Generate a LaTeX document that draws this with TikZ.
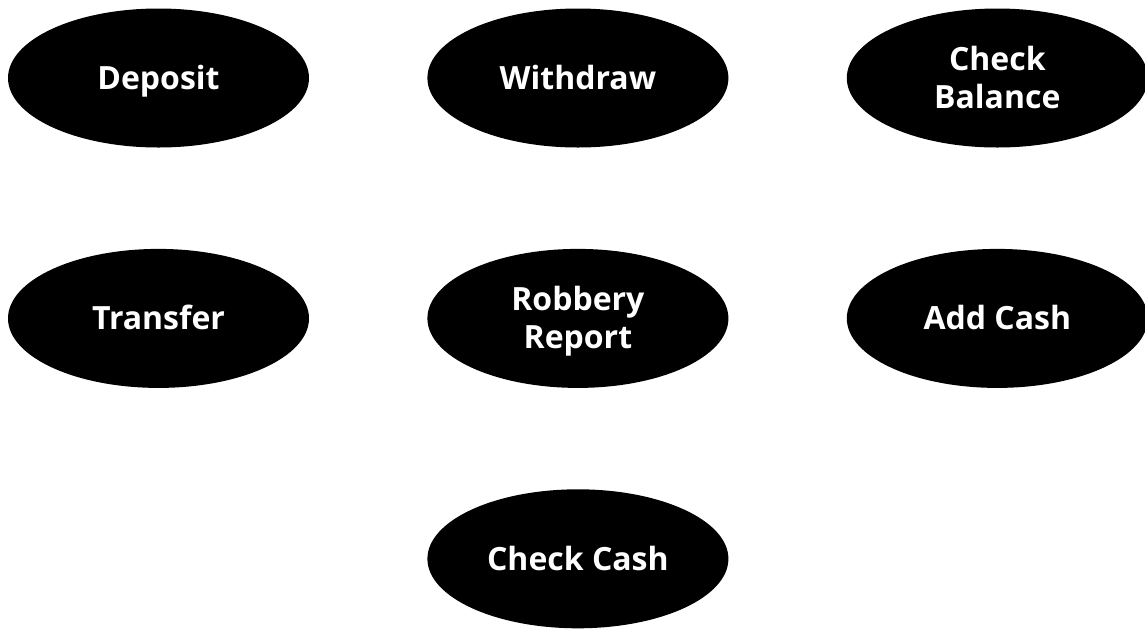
\documentclass[tikz,border=0pt]{standalone}
\usepackage{fontspec}
\setmainfont{Open Sans}
\usepackage{tikz}
\usetikzlibrary{positioning,shapes.geometric}

\begin{document}
\begin{tikzpicture}[
  font=\fontsize{32}{38}\selectfont\bfseries,
  node distance=101pt and 118pt,
  usecase/.style={ellipse, fill=black, text=white, align=center, inner sep=0pt, text height=23pt, text depth=0pt, minimum width=301pt, minimum height=139pt},
  twoline/.style={usecase, text height=61pt}
]
  \useasboundingbox (0,0) rectangle (1145pt,-630pt);
  \node[usecase] (deposit) at (158.5pt,-78pt) {Deposit};
  \node[usecase, right=of deposit] (withdraw) {Withdraw};
  \node[twoline, right=of withdraw] (balance) {Check\\Balance};

  \node[usecase, below=of deposit] (transfer) {Transfer};
  \node[twoline, below=of withdraw] (robbery) {Robbery\\Report};
  \node[usecase, below=of balance] (addcash) {Add Cash};

  \node[usecase, below=of robbery] (checkcash) {Check Cash};
\end{tikzpicture}
\end{document}
